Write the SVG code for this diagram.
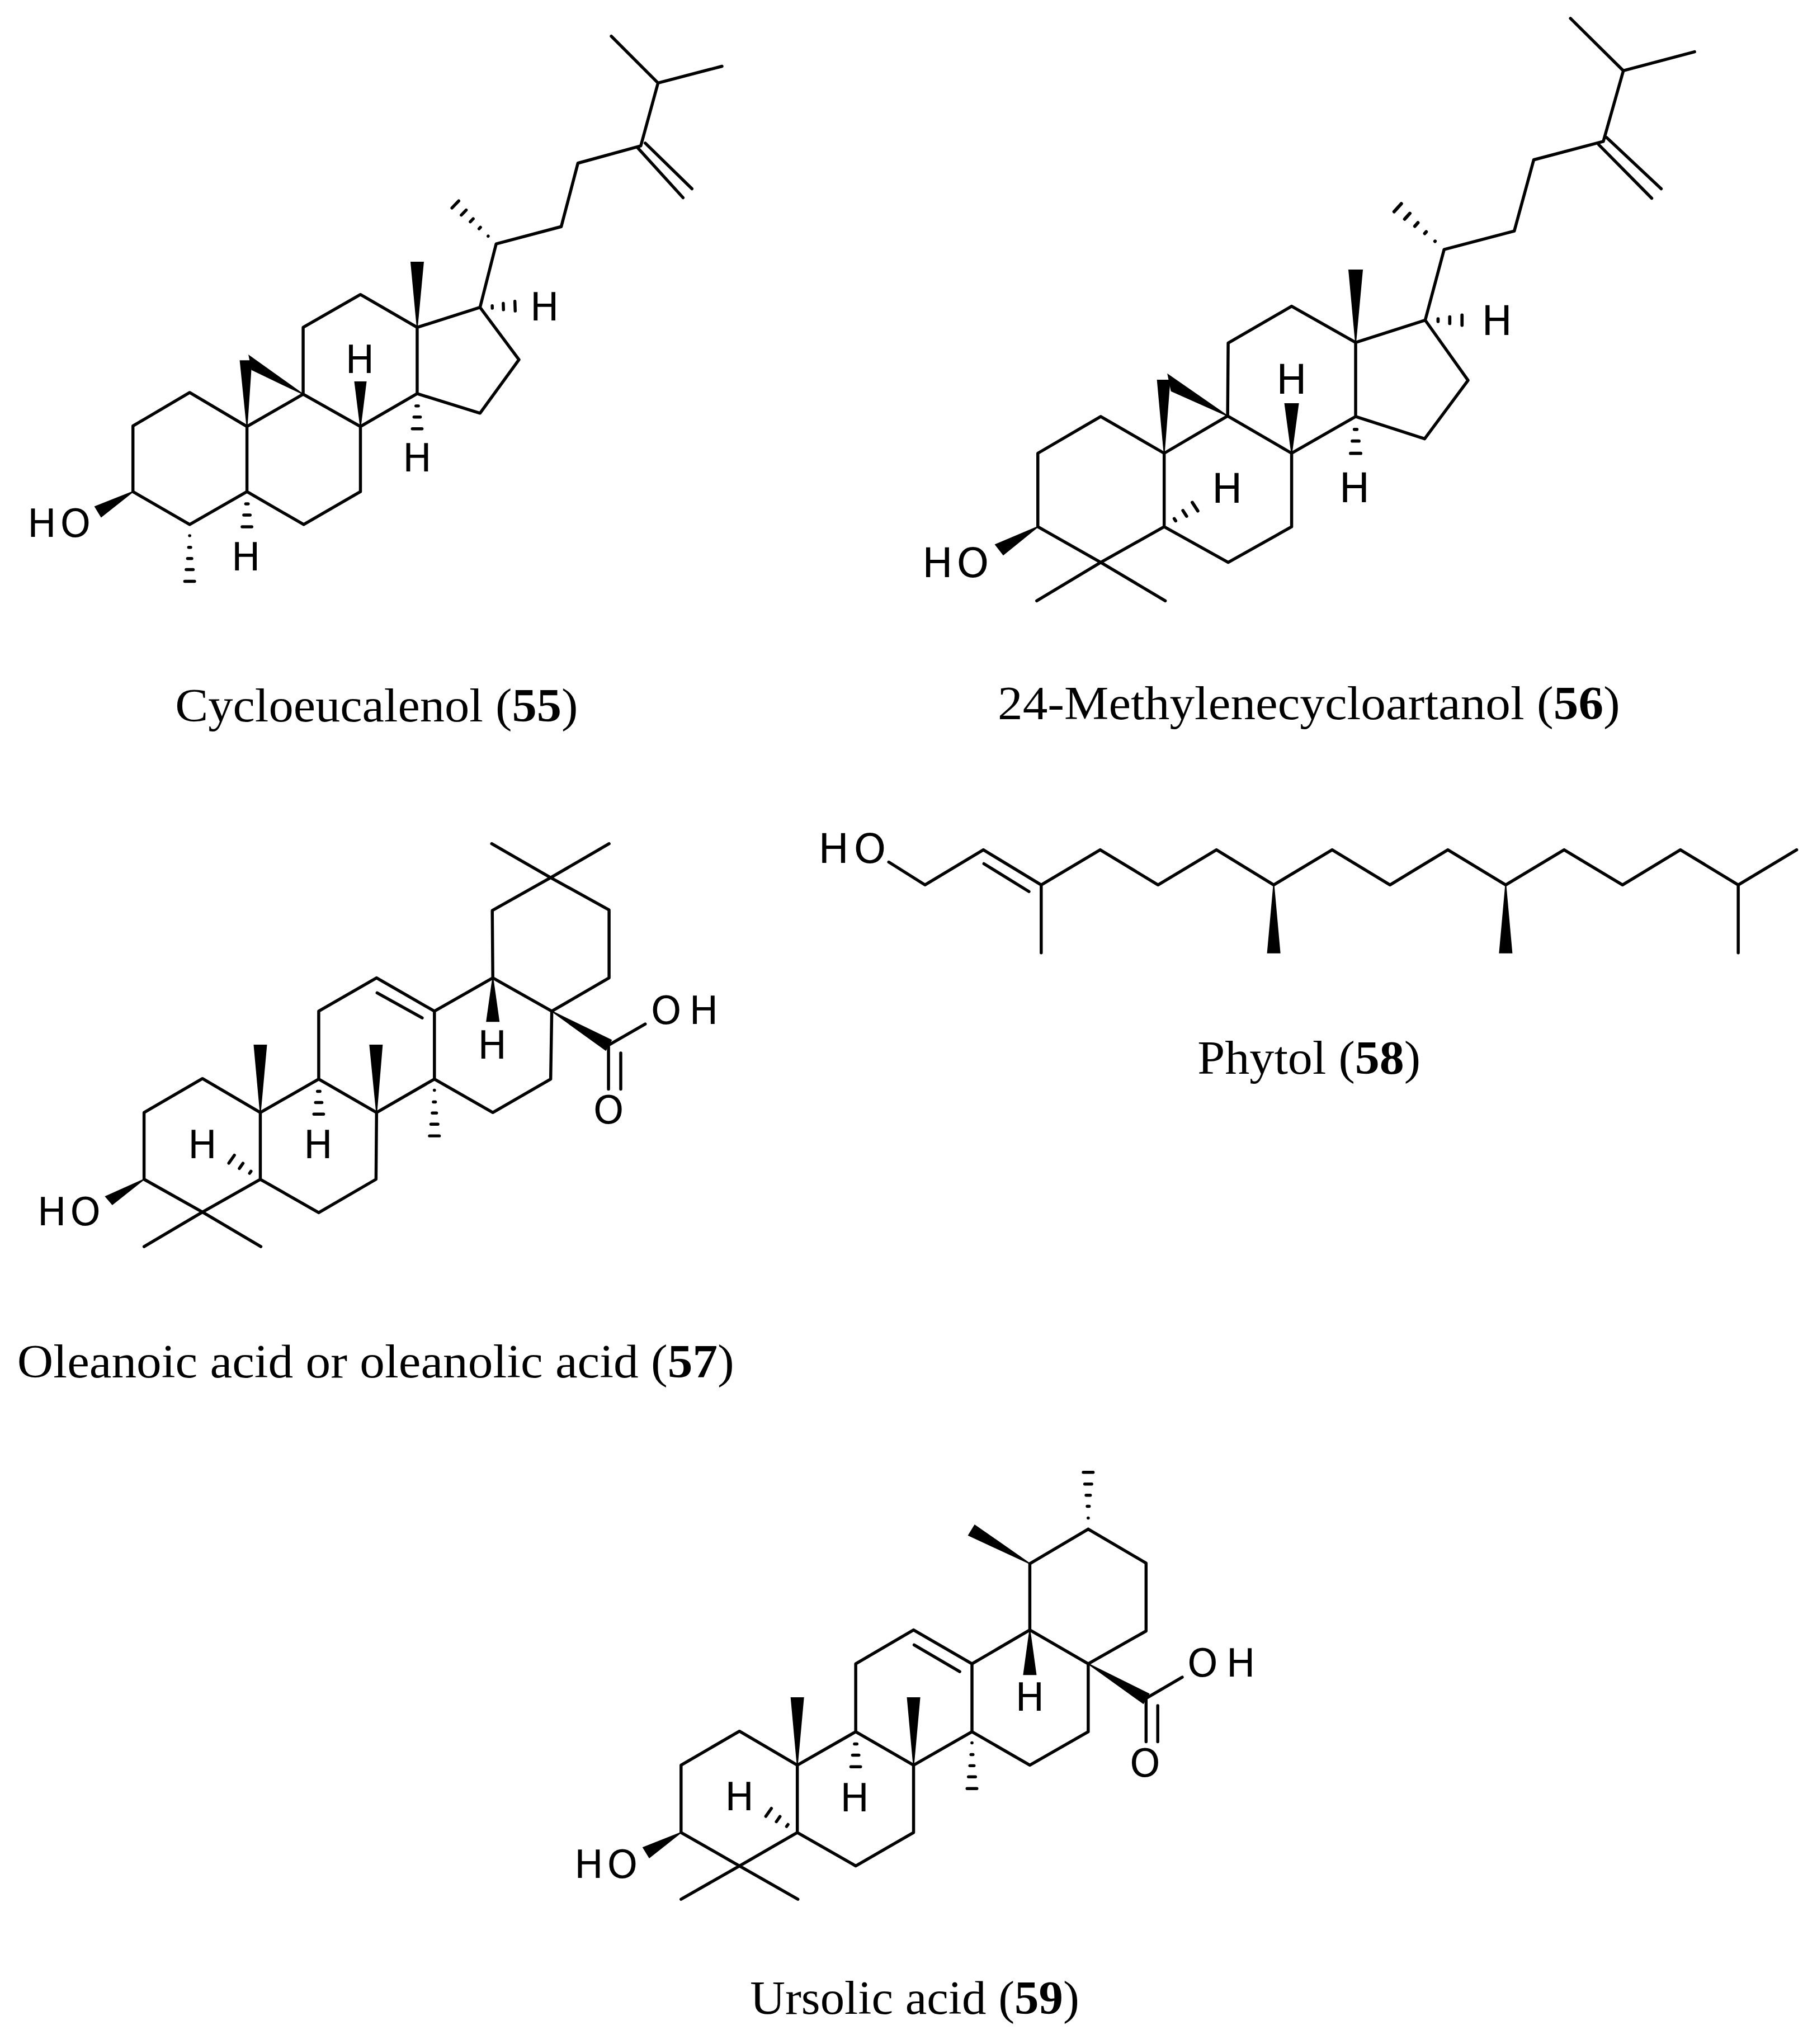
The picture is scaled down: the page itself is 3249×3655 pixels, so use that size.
<svg xmlns="http://www.w3.org/2000/svg" width="3249" height="3655" viewBox="0 0 3249 3655">
<style>
.b{fill:none;stroke:#000;stroke-width:5.5;stroke-linejoin:round;stroke-linecap:round}
.h{fill:none;stroke:#000;stroke-width:5.5;stroke-linecap:round}
.w{fill:#000;stroke:#000;stroke-width:2;stroke-linejoin:miter}
.a{font-family:"DejaVu Sans","Liberation Sans",sans-serif;font-size:70px;fill:#000}
.a2{font-size:74px}
.m{text-anchor:middle}
.c{font-family:"Liberation Serif","DejaVu Serif",serif;font-size:85px;fill:#000}
.c tspan{font-weight:bold}
</style>
<defs>
<path id="hl" class="h" d="M-.1 20H.1M-1.800 41H1.800M-3.800 61H3.800M-6.300 81H6.300M-8.800 102H8.800"/>
<path id="hs" class="h" d="M-2.200 22H2.200M-5.700 42H5.700M-8.700 63H8.700"/>
</defs>
<rect width="3249" height="3655" fill="#fff"/>
<g id="connectors">
<g id="bonds-55" transform="scale(.9946 .9957)">
<path class="b" d="M1099 65L1183 149L1298 119M1183 149L1152 262L1039 293L1009 407L892 438L863 552L750 588L648 529L545 588L545 708L648 766L750 707L750 588M863 552L933 646L863 742L750 707M648 766L648 883L546 942L444 883L444 766L545 708M444 766L341 705L239 765L239 883L341 942L444 883M1147 266L1228 355M1160 257L1244 339"/>
<polygon class="w" points="750,588 739,471 761,471"/><polygon class="w" points="648,766 638,686 658,686"/><polygon class="w" points="444,766 432,648 452,648"/><polygon class="w" points="545,708 448,639 453,664"/><polygon class="w" points="239,883 171,910 182,928"/>
<use href="#hl" transform="translate(892 438) rotate(134)"/><use href="#hs" transform="translate(863 552) rotate(-92)"/><use href="#hs" transform="translate(750 707)"/><use href="#hl" transform="translate(341 942)"/><use href="#hs" transform="translate(444 883)"/>
</g>
<g id="bonds-56" transform="translate(1600 0) scale(.9952 .9957) translate(-1600 0)">
<path class="b" d="M2814 33L2909 127L3037 93M2909 127L2873 254L2748 287L2713 415L2587 448L2553 575L2428 615L2313 550L2199 616L2198 747L2313 814L2428 748L2428 615M2553 575L2630 683L2552 788L2428 748M2313 814L2313 946L2199 1010L2084 946L2084 814L2198 747M2084 814L1970 748L1857 814L1857 946L1970 1010L2084 946M1855 1079L1970 1010L2086 1079M2879 247L2977 339M2865 260L2960 356"/>
<polygon class="w" points="2428,615 2416,485 2440,485"/><polygon class="w" points="2313,814 2301,725 2325,725"/><polygon class="w" points="2084,814 2072,683 2094,683"/><polygon class="w" points="2198,747 2091,673 2097,702"/><polygon class="w" points="1857,946 1781,978 1795,996"/>
<use href="#hl" transform="translate(2587 448) rotate(132) scale(1.1)"/><use href="#hs" transform="translate(2553 575) rotate(-90) scale(1.05)"/><use href="#hs" transform="translate(2428 748) scale(1.05)"/><use href="#hs" transform="translate(2084 946) rotate(-123) scale(1.05)"/>
</g>
<g id="bonds-57" transform="translate(0 1450) scale(.9946 .9951) translate(0 -1450)">
<path class="b" d="M884 1509L990 1570L1095 1509M990 1570L885 1629L886 1750L781 1810L677 1750L573 1810L573 1932L677 1992L781 1932L781 1810M886 1750L992 1810L1095 1750L1095 1628L990 1570M992 1810L990 1932L886 1992L781 1932M677 1992L676 2112L573 2172L468 2112L468 1992L573 1932M468 1992L364 1931L259 1992L259 2112L364 2171L468 2112M259 2233L364 2171L469 2233M1094 1871L1160 1833M1094 1873L1094 1950M1116 1885L1116 1950M678 1777L759 1822"/>
<polygon class="w" points="468,1992 457,1871 479,1871"/><polygon class="w" points="677,1992 665,1871 687,1871"/><polygon class="w" points="886,1750 875,1828 897,1828"/><polygon class="w" points="992,1810 1099,1862 1089,1880"/><polygon class="w" points="259,2112 190,2143 202,2157"/>
<use href="#hl" transform="translate(781 1932)"/><use href="#hs" transform="translate(573 1932)"/><use href="#hs" transform="translate(468 2112) rotate(125)"/>
</g>
<g id="bonds-58" transform="translate(1450 1450) scale(.9947) translate(-1450 -1450)">
<path class="b" d="M1590 1542L1655 1583L1760 1520L1864 1583L1970 1520L2074 1583L2179 1520L2282 1583L2387 1520L2491 1583L2595 1520L2699 1583L2804 1520L2909 1583L3013 1520L3117 1583L3222 1520M3117 1583L3117 1705M1864 1583L1864 1705M1761 1545L1842 1595"/>
<polygon class="w" points="2282,1583 2271,1705 2293,1705"/><polygon class="w" points="2699,1583 2688,1705 2710,1705"/>
</g>
<g id="bonds-59" transform="translate(1000 2600) scale(.9946 .9953) translate(-1000 -2600)">
<path class="b" d="M1951 2735L2055 2796L2055 2918L1951 2977L1846 2916L1846 2797L1951 2735M1846 2916L1742 2977L1637 2916L1533 2977L1533 3099L1637 3159L1742 3099L1742 2977M1951 2977L1951 3099L1846 3159L1742 3099M1637 3159L1637 3280L1533 3340L1428 3280L1428 3159L1533 3099M1428 3159L1324 3098L1219 3159L1219 3280L1324 3340L1428 3280M1219 3400L1324 3340L1429 3400M2055 3039L2120 3001M2055 3039L2055 3117M2076 3052L2076 3117M1638 2943L1720 2991"/>
<polygon class="w" points="1846,2797 1747,2728 1736,2746"/><polygon class="w" points="1428,3159 1417,3038 1439,3038"/><polygon class="w" points="1637,3159 1626,3038 1648,3038"/><polygon class="w" points="1846,2916 1835,2996 1857,2996"/><polygon class="w" points="1951,2977 2060,3031 2050,3048"/><polygon class="w" points="1219,3280 1151,3307 1162,3325"/>
<use href="#hl" transform="translate(1951 2735) rotate(180)"/><use href="#hl" transform="translate(1742 3099)"/><use href="#hs" transform="translate(1533 3099)"/><use href="#hs" transform="translate(1428 3280) rotate(125)"/>
</g>
</g>
<g id="cycloeucalenol" transform="scale(.9946 .9957)">
<text class="a" x="49 108" y="964">HO</text>
<text class="a m" x="979" y="575">H</text><text class="a m" x="647" y="670">H</text><text class="a m" x="750" y="847">H</text><text class="a m" x="442" y="1024">H</text>
<text class="c" x="315" y="1296" textLength="724" lengthAdjust="spacingAndGlyphs">Cycloeucalenol (<tspan>55</tspan>)</text>
</g>
<g id="methylenecycloartanol" transform="translate(1600 0) scale(.9952 .9957) translate(-1600 0)">
<text class="a a2" x="1649 1711" y="1036">HO</text>
<text class="a a2 m" x="2682" y="602">H</text><text class="a a2 m" x="2313" y="707">H</text><text class="a a2 m" x="2426" y="902">H</text><text class="a a2 m" x="2197" y="903">H</text>
<text class="c" x="1785" y="1292" textLength="1118" lengthAdjust="spacingAndGlyphs">24-Methylenecycloartanol (<tspan>56</tspan>)</text>
</g>
<g id="oleanolic-acid" transform="translate(0 1450) scale(.9946 .9951) translate(0 -1450)">
<text class="a" x="67 126" y="2195">HO</text><text class="a" x="1170 1239" y="1833">OH</text><text class="a m" x="1094" y="2012">O</text>
<text class="a m" x="572" y="2074">H</text><text class="a m" x="364" y="2074">H</text><text class="a m" x="885" y="1895">H</text>
<text class="c" x="31" y="2468" textLength="1289" lengthAdjust="spacingAndGlyphs">Oleanoic acid or oleanolic acid (<tspan>57</tspan>)</text>
</g>
<g id="phytol" transform="translate(1450 1450) scale(.9947) translate(-1450 -1450)">
<text class="a a2" x="1463 1527" y="1544">HO</text>
<text class="c" x="2145" y="1923" textLength="401" lengthAdjust="spacingAndGlyphs">Phytol (<tspan>58</tspan>)</text>
</g>
<g id="ursolic-acid" transform="translate(1000 2600) scale(.9946 .9953) translate(-1000 -2600)">
<text class="a" x="1027 1086" y="3362">HO</text><text class="a" x="2129 2199" y="3000">OH</text><text class="a m" x="2053" y="3180">O</text>
<text class="a m" x="1531" y="3242">H</text><text class="a m" x="1324" y="3240">H</text><text class="a m" x="1846" y="3061">H</text>
<text class="c" x="1343" y="3606" textLength="592" lengthAdjust="spacingAndGlyphs">Ursolic acid (<tspan>59</tspan>)</text>
</g>
</svg>
